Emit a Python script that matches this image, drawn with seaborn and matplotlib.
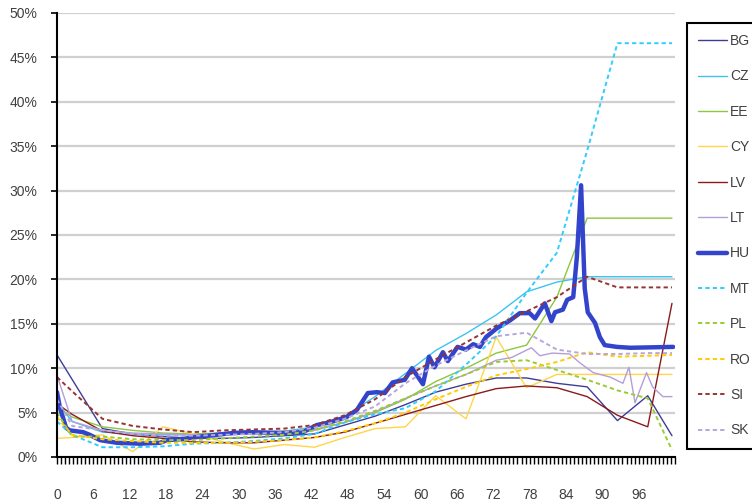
import numpy as np
import pandas as pd
import matplotlib
matplotlib.use('Agg')
import matplotlib.pyplot as plt
import seaborn as sns
from matplotlib.ticker import FixedLocator

nan = np.nan

# age group mid points (years)
ages = [0, 2.5, 7.5, 12.5, 17.5, 22.5, 27.5, 32.5, 37.5, 42.5, 47.5,
        52.5, 57.5, 62.5, 67.5, 72.5, 77.5, 82.5, 87.5, 92.5, 97.5, 101.5]

# shares in %
bg = [11.5, nan, 3.2, 2.6, 2.3, 2.1, 2.1, 2.2, 2.4, 2.6, 3.6,
      4.6, 5.9, 7.3, 8.2, 8.9, 8.9, 8.3, 7.9, 4.1, 6.9, 2.4]
cz = [6.2, 4.0, 2.8, 2.6, 2.5, 2.5, 2.6, 2.7, 2.9, 3.4, 4.6,
      6.8, 9.4, 12.0, 13.9, 16.0, 18.6, 19.7, 20.3, 20.3, 20.3, 20.3]
ee = [5.6, 4.5, 3.4, 3.0, 2.7, 2.6, 2.7, 2.8, 2.9, 3.1, 3.9,
      5.0, 6.5, 8.5, 10.0, 11.7, 12.6, 18.0, 26.9, 26.9, 26.9, 26.9]
cy = [2.1, 2.2, 2.5, 0.6, 3.4, 2.6, 1.7, 0.9, 1.4, 1.1, 2.2,
      3.2, 3.4, 6.9, 4.3, 13.5, 7.8, 9.3, 9.3, 9.3, 9.3, 9.3]
lv = [6.0, 4.8, 2.9, 2.4, 2.1, 1.7, 1.6, 1.6, 1.9, 2.2, 2.8,
      3.8, 4.8, 5.8, 6.8, 7.7, 8.0, 7.8, 6.8, 4.7, 3.4, 17.3]
mt = [4.0, 2.5, 1.1, 1.1, 1.2, 1.5, 1.6, 1.8, 2.1, 2.6, 3.9,
      4.8, 5.5, 7.4, 10.4, 13.6, 18.5, 23.0, 34.5, 46.6, 46.6, 46.6]
pl = [5.0, 2.3, 2.3, 2.0, 1.9, 1.9, 2.1, 2.3, 2.5, 3.0, 4.0,
      5.2, 6.6, 8.0, 9.3, 10.7, 10.9, 9.8, 8.7, 7.5, 6.6, 0.8]
ro = [4.5, 2.5, 2.0, 1.8, 1.6, 1.6, 1.6, 1.7, 1.9, 2.2, 2.9,
      3.8, 5.0, 6.5, 7.9, 9.2, 9.9, 10.7, 11.8, 11.3, 11.4, 11.5]
si = [9.0, 7.4, 4.3, 3.5, 3.1, 2.8, 3.0, 3.1, 3.2, 3.6, 4.7,
      6.5, 9.0, 11.0, 12.9, 14.8, 16.4, 18.0, 20.3, 19.1, 19.1, 19.1]
sk = [6.5, 3.5, 3.0, 2.6, 2.4, 2.4, 2.5, 2.6, 2.8, 3.3, 4.3,
      5.7, 8.3, 10.3, 12.0, 13.6, 14.0, 12.1, 11.6, 11.6, 11.7, 11.7]

# LT has single years at old ages
lt_age = [0, 2.5, 7.5, 12.5, 17.5, 22.5, 27.5, 32.5, 37.5, 42.5, 47.5, 52.5,
          57.5, 62.5, 67.5, 72.5, 75, 78.3, 79.7, 81.7, 84.6, 86.3, 88.5, 91.3,
          93.4, 94.4, 95.4, 97.3, 98.3, 100, 101.5]
lt = [9.2, 4.0, 3.0, 2.7, 2.6, 2.5, 2.5, 2.6, 2.7, 3.0, 3.9, 5.1,
      6.6, 8.0, 9.3, 10.9, 11.2, 12.3, 11.4, 11.7, 11.6, 10.6, 9.5, 9.0,
      8.3, 10.1, 6.1, 9.5, 7.9, 6.8, 6.8]

# HU is finer
hu_age = [0, 0.5, 1.5, 2.1, 4.3, 5.4, 7.1, 9.9, 13.7, 17, 18.2, 20.3, 23.6,
          29, 31.8, 37.3, 40.6, 42.9, 45, 47.8, 49.5, 51.3, 52.8, 54.1, 55.4,
          57.4, 58.6, 60.4, 61.4, 62.3, 63.7, 64.5, 66.1, 67.5, 68.7, 69.8,
          70.8, 72.6, 74.8, 76.4, 78, 78.9, 80.5, 81.6, 82.2, 83.5, 84.2, 85.2,
          85.8, 86.5, 87.1, 87.6, 88.8, 89.6, 90.4, 92.4, 94.6, 101.7]
hu = [7.3, 5.5, 3.3, 3.0, 2.8, 2.5, 1.9, 1.6, 1.5, 1.6, 1.9, 2.0, 2.3,
      2.7, 2.8, 2.7, 2.8, 3.6, 3.9, 4.5, 5.3, 7.2, 7.3, 7.2, 8.4,
      8.7, 10.0, 8.2, 11.3, 10.1, 11.8, 10.8, 12.4, 12.1, 12.7, 12.4,
      13.5, 14.5, 15.4, 16.2, 16.2, 15.6, 17.3, 15.3, 16.3, 16.6, 17.7, 18.0,
      22.5, 30.6, 19.0, 16.3, 15.1, 13.5, 12.6, 12.4, 12.3, 12.4]

countries = ['BG', 'CZ', 'EE', 'CY', 'LV', 'LT', 'HU', 'MT', 'PL', 'RO', 'SI', 'SK']
colors = ['#3d3d99', '#3cc3f0', '#8dc63f', '#ffd54a', '#8b1a1a', '#b39ddb',
          '#3344cc', '#33ccff', '#99cc33', '#ffcc00', '#993333', '#b8a6d9']

dots = (0, (2.2, 1.6))


def main():
    sns.set_theme(style='white')
    plt.rcParams['font.family'] = ['Liberation Sans', 'DejaVu Sans']

    series = {
        'BG': (ages, bg), 'CZ': (ages, cz), 'EE': (ages, ee), 'CY': (ages, cy),
        'LV': (ages, lv), 'LT': (lt_age, lt), 'HU': (hu_age, hu),
        'MT': (ages, mt), 'PL': (ages, pl), 'RO': (ages, ro),
        'SI': (ages, si), 'SK': (ages, sk),
    }

    fig = plt.figure(figsize=(7.52, 5.04), dpi=100)
    ax = fig.add_axes([57 / 752, 47 / 504, 618 / 752, 444 / 504])

    for i, c in enumerate(countries):
        x, y = series[c]
        df = pd.DataFrame({'age': x, 'share': y}).dropna()
        dotted = i >= 7
        lw = 3.2 if c == 'HU' else (1.4 if dotted else 1.0)
        sns.lineplot(data=df, x='age', y='share', ax=ax, color=colors[i],
                     linewidth=lw, linestyle=dots if dotted else '-',
                     label=c, sort=False, estimator=None, legend=False)

    ax.set_xlim(0, 102)
    ax.set_ylim(0, 50)
    ax.set_xlabel('')
    ax.set_ylabel('')

    ax.yaxis.grid(True, color='#d0d0d0', linewidth=1.6)
    ax.xaxis.grid(False)
    ax.set_axisbelow(True)
    for s in ['top', 'right']:
        ax.spines[s].set_visible(False)
    for s in ['left', 'bottom']:
        ax.spines[s].set_color('black')
        ax.spines[s].set_linewidth(1.5)

    yt = list(range(0, 51, 5))
    ax.set_yticks(yt)
    ax.set_yticklabels([f'{v}%' for v in yt])
    xt = list(range(0, 97, 6))
    ax.set_xticks(xt)
    ax.set_xticklabels([str(v) for v in xt])
    ax.xaxis.set_minor_locator(FixedLocator(np.arange(0, 102.1, 2 / 3)))

    ax.tick_params(axis='y', which='major', left=True, direction='out',
                   length=4, width=1.2, color='black', pad=10,
                   labelsize=10, labelcolor='#404040')
    ax.tick_params(axis='x', which='both', bottom=True, direction='out',
                   length=5, width=1.0, color='black')
    ax.tick_params(axis='x', which='major', pad=17, labelsize=10,
                   labelcolor='#404040')

    handles = ax.get_lines()[:len(countries)]
    leg = fig.legend(handles, countries, loc='upper left',
                     bbox_to_anchor=(687 / 752, 1 - 23 / 504),
                     frameon=True, fancybox=False, edgecolor='black',
                     framealpha=1, borderaxespad=0, labelspacing=1.54,
                     handlelength=2.1, handletextpad=0.2, fontsize=10,
                     borderpad=0.8)
    leg.get_frame().set_linewidth(1.5)
    for t in leg.get_texts():
        t.set_color('#404040')

    plt.savefig('out.png', dpi=100)


if __name__ == '__main__':
    main()
